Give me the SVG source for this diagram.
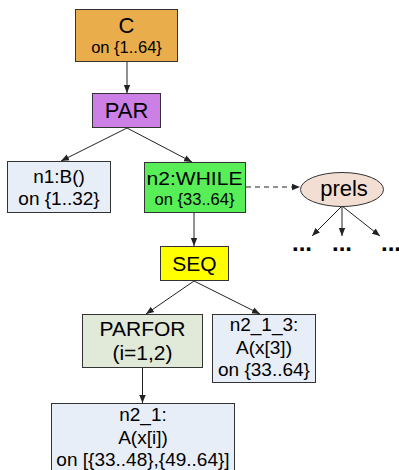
<svg xmlns="http://www.w3.org/2000/svg" width="399" height="470" viewBox="0 0 399 470">
<style>
  text { font-family: "Liberation Sans", Arial, sans-serif; fill: #000; text-anchor: middle; }
  .box { stroke: #333; stroke-width: 1; }
  .edge { stroke: #222; stroke-width: 1; fill: none; }
  .dash { stroke-dasharray: 5 4; }
  .dots { font-size: 24px; font-weight: bold; text-anchor: start; }
</style>
<defs>
  <marker id="arr" viewBox="0 0 8 8" refX="8" refY="4" markerWidth="8" markerHeight="8" markerUnits="userSpaceOnUse" orient="auto">
    <path d="M0,0.8 L8,4 L0,7.2 Z" fill="#222"/>
  </marker>
</defs>
<rect width="399" height="470" fill="#fff"/>
<g id="connectors">
  <line class="edge" x1="127" y1="62" x2="127" y2="93" marker-end="url(#arr)"/>
  <line class="edge" x1="127" y1="128" x2="61" y2="161" marker-end="url(#arr)"/>
  <line class="edge" x1="127" y1="128" x2="192" y2="162" marker-end="url(#arr)"/>
  <line class="edge dash" x1="246" y1="187" x2="300" y2="187" marker-end="url(#arr)"/>
  <line class="edge" x1="194" y1="213" x2="194" y2="246" marker-end="url(#arr)"/>
  <line class="edge" x1="342" y1="206" x2="312" y2="236" marker-end="url(#arr)"/>
  <line class="edge" x1="342" y1="206" x2="342" y2="236" stroke="#555" marker-end="url(#arr)"/>
  <line class="edge" x1="342" y1="206" x2="380" y2="236" marker-end="url(#arr)"/>
  <line class="edge" x1="194" y1="281" x2="146" y2="314" marker-end="url(#arr)"/>
  <line class="edge" x1="194" y1="281" x2="260" y2="314" marker-end="url(#arr)"/>
  <line class="edge" x1="142.5" y1="368" x2="142.5" y2="403" marker-end="url(#arr)"/>
</g>
<g id="C">
  <rect class="box" x="75.5" y="9.5" width="102" height="52" fill="#E9AE4B"/>
  <text x="126.5" y="32.5" font-size="22">C</text>
  <text x="126.5" y="52.5" font-size="16.5">on {1..64}</text>
</g>
<g id="PAR">
  <rect class="box" x="92.5" y="93.5" width="68" height="34" fill="#CC80E6"/>
  <text x="126.5" y="117.5" font-size="22">PAR</text>
</g>
<g id="n1">
  <rect class="box" x="7.5" y="161.5" width="103" height="51" fill="#E8EEF7"/>
  <text x="59" y="182.5" font-size="19">n1:B()</text>
  <text x="59" y="205" font-size="19">on {1..32}</text>
</g>
<g id="n2">
  <rect class="box" x="144.5" y="162.5" width="101" height="50" fill="#58EE58"/>
  <text x="194.5" y="185" font-size="19" textLength="96" lengthAdjust="spacingAndGlyphs">n2:WHILE</text>
  <text x="194.5" y="205" font-size="16.5">on {33..64}</text>
</g>
<g id="prels">
  <ellipse class="box" cx="342" cy="189.5" rx="41.5" ry="17" fill="#F2DED3"/>
  <text x="344" y="196" font-size="22">prels</text>
</g>
<g id="dots">
  <text class="dots" x="292" y="251">...</text>
  <text class="dots" x="332" y="251">...</text>
  <text class="dots" x="381" y="251">...</text>
</g>
<g id="SEQ">
  <rect class="box" x="160.5" y="246.5" width="68" height="34" fill="#FFFF00"/>
  <text x="194.5" y="270.5" font-size="21">SEQ</text>
</g>
<g id="PARFOR">
  <rect class="box" x="82.5" y="314.5" width="120" height="53" fill="#E1E9D9"/>
  <text x="142.5" y="336" font-size="21">PARFOR</text>
  <text x="142.5" y="360" font-size="21">(i=1,2)</text>
</g>
<g id="n2_1_3">
  <rect class="box" x="212.5" y="314.5" width="103" height="68" fill="#E8EEF7"/>
  <text x="264" y="331" font-size="19">n2_1_3:</text>
  <text x="264" y="353.5" font-size="19">A(x[3])</text>
  <text x="264" y="376" font-size="19">on {33..64}</text>
</g>
<g id="n2_1">
  <rect class="box" x="51.5" y="403.5" width="183" height="70" fill="#E8EEF7"/>
  <text x="143" y="421" font-size="19">n2_1:</text>
  <text x="143" y="443.5" font-size="19">A(x[i])</text>
  <text x="143" y="466" font-size="19">on [{33..48},{49..64}]</text>
</g>
</svg>
